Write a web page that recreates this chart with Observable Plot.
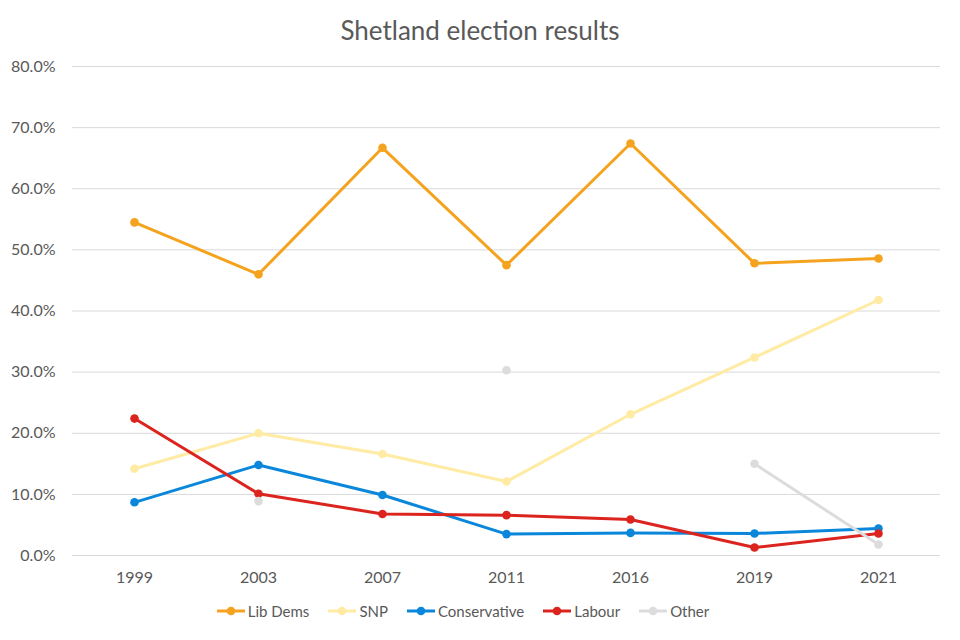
<!DOCTYPE html>
<html>
<head>
<meta charset="utf-8">
<script src="https://cdn.jsdelivr.net/npm/d3@7"></script>
<script src="https://cdn.jsdelivr.net/npm/@observablehq/plot@0.6"></script>
<style>
  html, body { margin: 0; padding: 0; background: #fff; }
  body { width: 960px; height: 640px; position: relative; font-family: Lato, "Open Sans", sans-serif; color: #595959; overflow: hidden; }
  #title { position: absolute; top: 0; left: 0; width: 960px; height: 50px; text-align: center; font-size: 26px; line-height: 60px; }
  #chart { position: absolute; top: 50px; left: 0; }
  #legend { position: absolute; top: 598px; left: -17px; width: 960px; height: 26px; display: flex; justify-content: center; align-items: center; font-size: 15px; }
  .item { display: flex; align-items: center; margin: 0 9.5px; }
  .item svg { margin-right: 3px; }
</style>
</head>
<body>
<div id="title">Shetland election results</div>
<div id="chart"></div>
<div id="legend"></div>
<script>
const years = ["1999", "2003", "2007", "2011", "2016", "2019", "2021"];
const libDems = [54.5, 46.0, 66.7, 47.5, 67.4, 47.8, 48.6];
const snp = [14.2, 20.0, 16.6, 12.1, 23.1, 32.4, 41.8];
const conservative = [8.7, 14.8, 9.9, 3.5, 3.7, 3.6, 4.4];
const labour = [22.4, 10.1, 6.8, 6.6, 5.9, 1.3, 3.6];
const other = [null, 8.9, null, 30.3, null, 15.0, 1.8];
const yTicks = [0, 10, 20, 30, 40, 50, 60, 70, 80];

const series = [
  { name: "Lib Dems", values: libDems, color: "#F5A31E" },
  { name: "SNP", values: snp, color: "#FFEBA3" },
  { name: "Conservative", values: conservative, color: "#0A87DA" },
  { name: "Labour", values: labour, color: "#DC241F" },
  { name: "Other", values: other, color: "#DCDCDC" }
];

const marks = [
  Plot.gridY(yTicks, { stroke: "#d9d9d9", strokeOpacity: 1, strokeWidth: 1 })
];
for (const s of series) {
  const rows = years.map((yr, i) => ({ year: yr, value: s.values[i] == null ? undefined : s.values[i] }));
  marks.push(Plot.line(rows, { x: "year", y: "value", stroke: s.color, strokeWidth: 3, strokeLinejoin: "round" }));
  marks.push(Plot.dot(rows.filter(d => d.value !== undefined), { x: "year", y: "value", fill: s.color, r: 4.3, stroke: "none" }));
}
marks.push(Plot.axisY(yTicks, { tickSize: 0, tickPadding: 17, tickFormat: d => d.toFixed(1) + "%", fontSize: 16, fill: "#595959", label: null }));
marks.push(Plot.axisX({ tickSize: 0, tickPadding: 16, fontSize: 16, fill: "#595959", label: null }));

const chart = Plot.plot({
  width: 960,
  height: 550,
  marginLeft: 72,
  marginRight: 20,
  marginTop: 16,
  marginBottom: 45,
  style: { fontFamily: "Lato, 'Open Sans', sans-serif", color: "#595959", background: "#fff" },
  x: { type: "point", domain: years, padding: 0.5 },
  y: { domain: [0, 80] },
  marks
});
document.getElementById("chart").appendChild(chart);

const legend = document.getElementById("legend");
for (const s of series) {
  const item = document.createElement("div");
  item.className = "item";
  item.innerHTML = `<svg width="28" height="12"><line x1="0" x2="28" y1="6" y2="6" stroke="${s.color}" stroke-width="3"/><circle cx="14" cy="6" r="4.3" fill="${s.color}"/></svg><span>${s.name}</span>`;
  legend.appendChild(item);
}
</script>
</body>
</html>
